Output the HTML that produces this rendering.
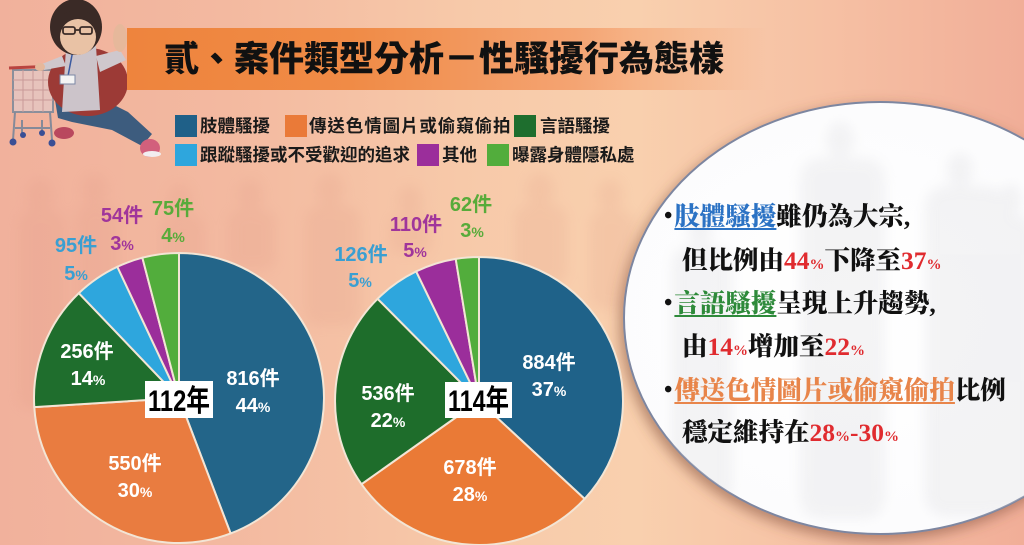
<!DOCTYPE html>
<html><head><meta charset="utf-8">
<style>
html,body{margin:0;padding:0;}
body{width:1024px;height:545px;overflow:hidden;position:relative;
background:linear-gradient(90deg,#f1b19c 0%,#f3b9a0 22%,#f7c9a9 45%,#f9d0ae 62%,#f6c1a4 80%,#f1ae98 100%);}
.abs{position:absolute;white-space:nowrap;}
.band{left:127px;top:28px;width:640px;height:62px;background:linear-gradient(90deg,#ee843d 0%,#f08b46 35%,rgba(243,150,95,.75) 70%,rgba(247,190,155,0) 100%);}
.title{left:164px;top:28px;height:62px;line-height:64px;font-family:"Liberation Sans","Noto Sans CJK TC",sans-serif;font-weight:900;font-size:35px;color:#111;}
.lg{font-family:"Liberation Sans","Noto Sans CJK TC",sans-serif;font-weight:700;font-size:17.5px;color:#1a1a1a;line-height:22px;}
.sq{position:absolute;width:22px;height:22px;}
.pt{font-family:"Liberation Serif","Noto Serif CJK SC",serif;font-weight:900;font-size:25.5px;color:#111;line-height:30px;}
.pt .r{color:#e02b2f;}
.pt .s{font-size:15px;}
.u{text-decoration:underline;text-decoration-thickness:2px;text-underline-offset:3px;}
.bul{font-size:24px;position:relative;top:-2px;margin-right:2px;}
</style></head><body>

<svg class="abs" style="left:0;top:0" width="1024" height="545" viewBox="0 0 1024 545">
<defs>
<filter id="blur6"><feGaussianBlur stdDeviation="6"/></filter>
<filter id="sh" x="-20%" y="-20%" width="140%" height="140%"><feDropShadow dx="-3" dy="5" stdDeviation="7" flood-color="#7a4a35" flood-opacity="0.55"/></filter>
<radialGradient id="wg" cx="0.45" cy="0.5" r="0.65"><stop offset="0" stop-color="#ffffff"/><stop offset="0.8" stop-color="#fcfcfd"/><stop offset="1" stop-color="#f4f4f6"/></radialGradient>
<clipPath id="ec"><ellipse cx="880" cy="318" rx="256" ry="216"/></clipPath>
</defs>
<!-- background silhouettes -->
<g fill="#d88e7c" opacity="0.14" filter="url(#blur6)">
<ellipse cx="40" cy="195" rx="14" ry="17"/><rect x="18" y="210" width="48" height="200" rx="14"/>
<ellipse cx="95" cy="190" rx="13" ry="16"/><rect x="75" y="205" width="44" height="160" rx="14"/>
<ellipse cx="180" cy="200" rx="13" ry="16"/><rect x="160" y="215" width="45" height="60" rx="12"/>
<ellipse cx="250" cy="195" rx="13" ry="16"/><rect x="228" y="210" width="48" height="60" rx="12"/>
<ellipse cx="330" cy="190" rx="14" ry="17"/><rect x="305" y="206" width="55" height="120" rx="14"/>
<ellipse cx="410" cy="200" rx="12" ry="15"/><rect x="390" y="214" width="42" height="40" rx="12"/>
<ellipse cx="540" cy="190" rx="14" ry="17"/><rect x="515" y="205" width="52" height="80" rx="14"/>
<ellipse cx="610" cy="195" rx="13" ry="16"/><rect x="590" y="210" width="45" height="100" rx="14"/>
</g>
<!-- panel ellipse -->
<ellipse cx="880" cy="318" rx="256" ry="216" fill="url(#wg)" stroke="#7d86a0" stroke-width="2" filter="url(#sh)"/>
<g clip-path="url(#ec)" fill="#d9d9dd" opacity="0.28" filter="url(#blur6)">
<ellipse cx="840" cy="140" rx="14" ry="18"/><rect x="800" y="158" width="85" height="360" rx="20"/>
<ellipse cx="960" cy="170" rx="13" ry="17"/><rect x="925" y="186" width="80" height="330" rx="20"/>
<ellipse cx="700" cy="230" rx="12" ry="16"/><rect x="672" y="246" width="60" height="260" rx="18"/>
<ellipse cx="1010" cy="200" rx="12" ry="16"/><rect x="985" y="215" width="50" height="300" rx="18"/>
</g>
<!-- character -->
<g>
<rect x="13" y="70" width="40" height="42" fill="#e7c3bc" stroke="#8b8f9b" stroke-width="2"/>
<g stroke="#c99a98" stroke-width="1"><line x1="13" y1="80" x2="53" y2="80"/><line x1="13" y1="90" x2="53" y2="90"/><line x1="13" y1="100" x2="53" y2="100"/><line x1="23" y1="70" x2="23" y2="112"/><line x1="33" y1="70" x2="33" y2="112"/><line x1="43" y1="70" x2="43" y2="112"/></g>
<line x1="9" y1="68" x2="56" y2="66" stroke="#b94440" stroke-width="3"/>
<g stroke="#858a99" stroke-width="2"><line x1="15" y1="112" x2="13" y2="140"/><line x1="50" y1="112" x2="52" y2="140"/><line x1="15" y1="128" x2="50" y2="128"/><line x1="22" y1="120" x2="22" y2="133"/><line x1="42" y1="120" x2="42" y2="131"/></g>
<g fill="#3a4f95"><circle cx="13" cy="142" r="3.5"/><circle cx="23" cy="135" r="3"/><circle cx="42" cy="133" r="3"/><circle cx="52" cy="143" r="3.5"/></g>
<path d="M55,100 L100,98 L128,112 L152,134 L142,146 L112,130 L72,122 L58,118 Z" fill="#3d5c7e"/>
<ellipse cx="150" cy="148" rx="10" ry="9" fill="#d2607c"/><ellipse cx="152" cy="154" rx="9" ry="3" fill="#f2eef0"/>
<ellipse cx="64" cy="133" rx="10" ry="6" fill="#b9485e"/>
<ellipse cx="88" cy="82" rx="40" ry="34" fill="#9c3a36"/>
<path d="M66,48 L96,46 L100,110 L62,112 Z" fill="#ccc4ca"/>
<path d="M96,56 L120,50 L126,60 L100,72 Z" fill="#cfc8cd"/>
<ellipse cx="120" cy="38" rx="7" ry="14" fill="#e6b89b"/>
<path d="M62,56 L42,64 L44,70 L66,66 Z" fill="#cfc8cd"/>
<ellipse cx="40" cy="67" rx="5" ry="4" fill="#e6b89b"/>
<line x1="73" y1="50" x2="68" y2="76" stroke="#3b5aa0" stroke-width="1.5"/>
<rect x="60" y="75" width="15" height="9" fill="#f4f4f4" stroke="#7b87a5" stroke-width="1"/>
<ellipse cx="76" cy="27" rx="26" ry="28" fill="#3a2a26"/>
<ellipse cx="78" cy="37" rx="18" ry="18" fill="#e9c2a5"/>
<path d="M60,24 Q76,8 96,24 L96,18 Q78,2 58,18 Z" fill="#3a2a26"/>
<g fill="none" stroke="#3b2c28" stroke-width="1.8"><rect x="63" y="27" width="12" height="7" rx="2"/><rect x="80" y="27" width="12" height="7" rx="2"/><line x1="75" y1="30" x2="80" y2="30"/></g>
</g>
<!-- left pie -->
<g stroke="#f3e5d5" stroke-width="2" stroke-linejoin="round">
<path d="M179,398 L179,253 A145,145 0 0 1 230.65,533.49 Z" fill="#236589"/>
<path d="M179,398 L230.65,533.49 A145,145 0 0 1 34.29,407.13 Z" fill="#e97c40"/>
<path d="M179,398 L34.29,407.13 A145,145 0 0 1 78.85,293.15 Z" fill="#1f6e2d"/>
<path d="M179,398 L78.85,293.15 A145,145 0 0 1 117.36,266.75 Z" fill="#2ea6dd"/>
<path d="M179,398 L117.36,266.75 A145,145 0 0 1 142.37,257.70 Z" fill="#9b2e9b"/>
<path d="M179,398 L142.37,257.70 A145,145 0 0 1 179,253 Z" fill="#52ad3c"/>
</g>
<!-- right pie -->
<g stroke="#f3e5d5" stroke-width="2" stroke-linejoin="round">
<path d="M479,401 L479,257 A144,144 0 0 1 584.6,498.9 Z" fill="#1f6289"/>
<path d="M479,401 L584.6,498.9 A144,144 0 0 1 361.5,484.2 Z" fill="#ea7a36"/>
<path d="M479,401 L361.5,484.2 A144,144 0 0 1 377.6,298.8 Z" fill="#1e6d2b"/>
<path d="M479,401 L377.6,298.8 A144,144 0 0 1 416.2,271.4 Z" fill="#2ea6dd"/>
<path d="M479,401 L416.2,271.4 A144,144 0 0 1 455.7,258.9 Z" fill="#9b2e9b"/>
<path d="M479,401 L455.7,258.9 A144,144 0 0 1 479,257 Z" fill="#52ad3c"/>
</g>
<!-- labels -->
<g font-family="Liberation Sans, Noto Sans CJK TC, sans-serif" font-weight="700" font-size="20" text-anchor="middle">
<g fill="#ffffff">
<text x="253" y="385">816件</text><text x="253" y="412">44<tspan font-size="14">%</tspan></text>
<text x="135" y="470">550件</text><text x="135" y="497">30<tspan font-size="14">%</tspan></text>
<text x="87" y="358">256件</text><text x="88" y="385">14<tspan font-size="14">%</tspan></text>
<text x="549" y="369">884件</text><text x="549" y="396">37<tspan font-size="14">%</tspan></text>
<text x="470" y="474">678件</text><text x="470" y="501">28<tspan font-size="14">%</tspan></text>
<text x="388" y="400">536件</text><text x="388" y="427">22<tspan font-size="14">%</tspan></text>
</g>
<g fill="#3a9fd2">
<text x="76" y="252">95件</text><text x="76" y="280">5<tspan font-size="14">%</tspan></text>
<text x="361" y="261">126件</text><text x="360" y="287">5<tspan font-size="14">%</tspan></text>
</g>
<g fill="#a0359b">
<text x="122" y="222">54件</text><text x="122" y="250">3<tspan font-size="14">%</tspan></text>
<text x="416" y="231">110件</text><text x="415" y="257">5<tspan font-size="14">%</tspan></text>
</g>
<g fill="#58ab3a">
<text x="173" y="215">75件</text><text x="173" y="242">4<tspan font-size="14">%</tspan></text>
<text x="471" y="211">62件</text><text x="472" y="237">3<tspan font-size="14">%</tspan></text>
</g>
</g>
<rect x="145" y="381" width="68" height="37" fill="#ffffff"/>
<rect x="445" y="382" width="67" height="36" fill="#ffffff"/>
<g font-family="Liberation Sans, Noto Sans CJK TC, sans-serif" font-weight="700" font-size="30" fill="#000">
<text x="148" y="411" textLength="62" lengthAdjust="spacingAndGlyphs">112年</text>
<text x="448" y="411" textLength="61" lengthAdjust="spacingAndGlyphs">114年</text>
</g>
</svg>

<div class="abs band"></div>
<div class="abs title">貳、案件類型分析－性騷擾行為態樣</div>

<div class="sq" style="left:175px;top:115px;background:#1f6088"></div>
<div class="abs lg" style="left:200px;top:115px">肢體騷擾</div>
<div class="sq" style="left:285px;top:115px;background:#ea7a38"></div>
<div class="abs lg" style="left:309px;top:115px;letter-spacing:0.9px">傳送色情圖片或偷窺偷拍</div>
<div class="sq" style="left:514px;top:115px;background:#1e6e2e"></div>
<div class="abs lg" style="left:540px;top:115px">言語騷擾</div>
<div class="sq" style="left:175px;top:144px;background:#2ea6dd"></div>
<div class="abs lg" style="left:200px;top:144px">跟蹤騷擾或不受歡迎的追求</div>
<div class="sq" style="left:417px;top:144px;background:#9b2e9b"></div>
<div class="abs lg" style="left:442px;top:144px">其他</div>
<div class="sq" style="left:487px;top:144px;background:#52ad3c"></div>
<div class="abs lg" style="left:512px;top:144px">曝露身體隱私處</div>

<div class="abs pt" style="left:664px;top:202px"><span class="bul">•</span><span class="u" style="color:#2b72c4">肢體騷擾</span>雖仍為大宗,</div>
<div class="abs pt" style="left:682px;top:246px">但比例由<span class="r">44<span class="s">%</span></span>下降至<span class="r">37<span class="s">%</span></span></div>
<div class="abs pt" style="left:664px;top:289px"><span class="bul">•</span><span class="u" style="color:#2e8a3a">言語騷擾</span>呈現上升趨勢,</div>
<div class="abs pt" style="left:682px;top:332px">由<span class="r">14<span class="s">%</span></span>增加至<span class="r">22<span class="s">%</span></span></div>
<div class="abs pt" style="left:664px;top:376px"><span class="bul">•</span><span class="u" style="color:#e8854a">傳送色情圖片或偷窺偷拍</span>比例</div>
<div class="abs pt" style="left:682px;top:418px">穩定維持在<span class="r">28<span class="s">%</span>-30<span class="s">%</span></span></div>

</body></html>
